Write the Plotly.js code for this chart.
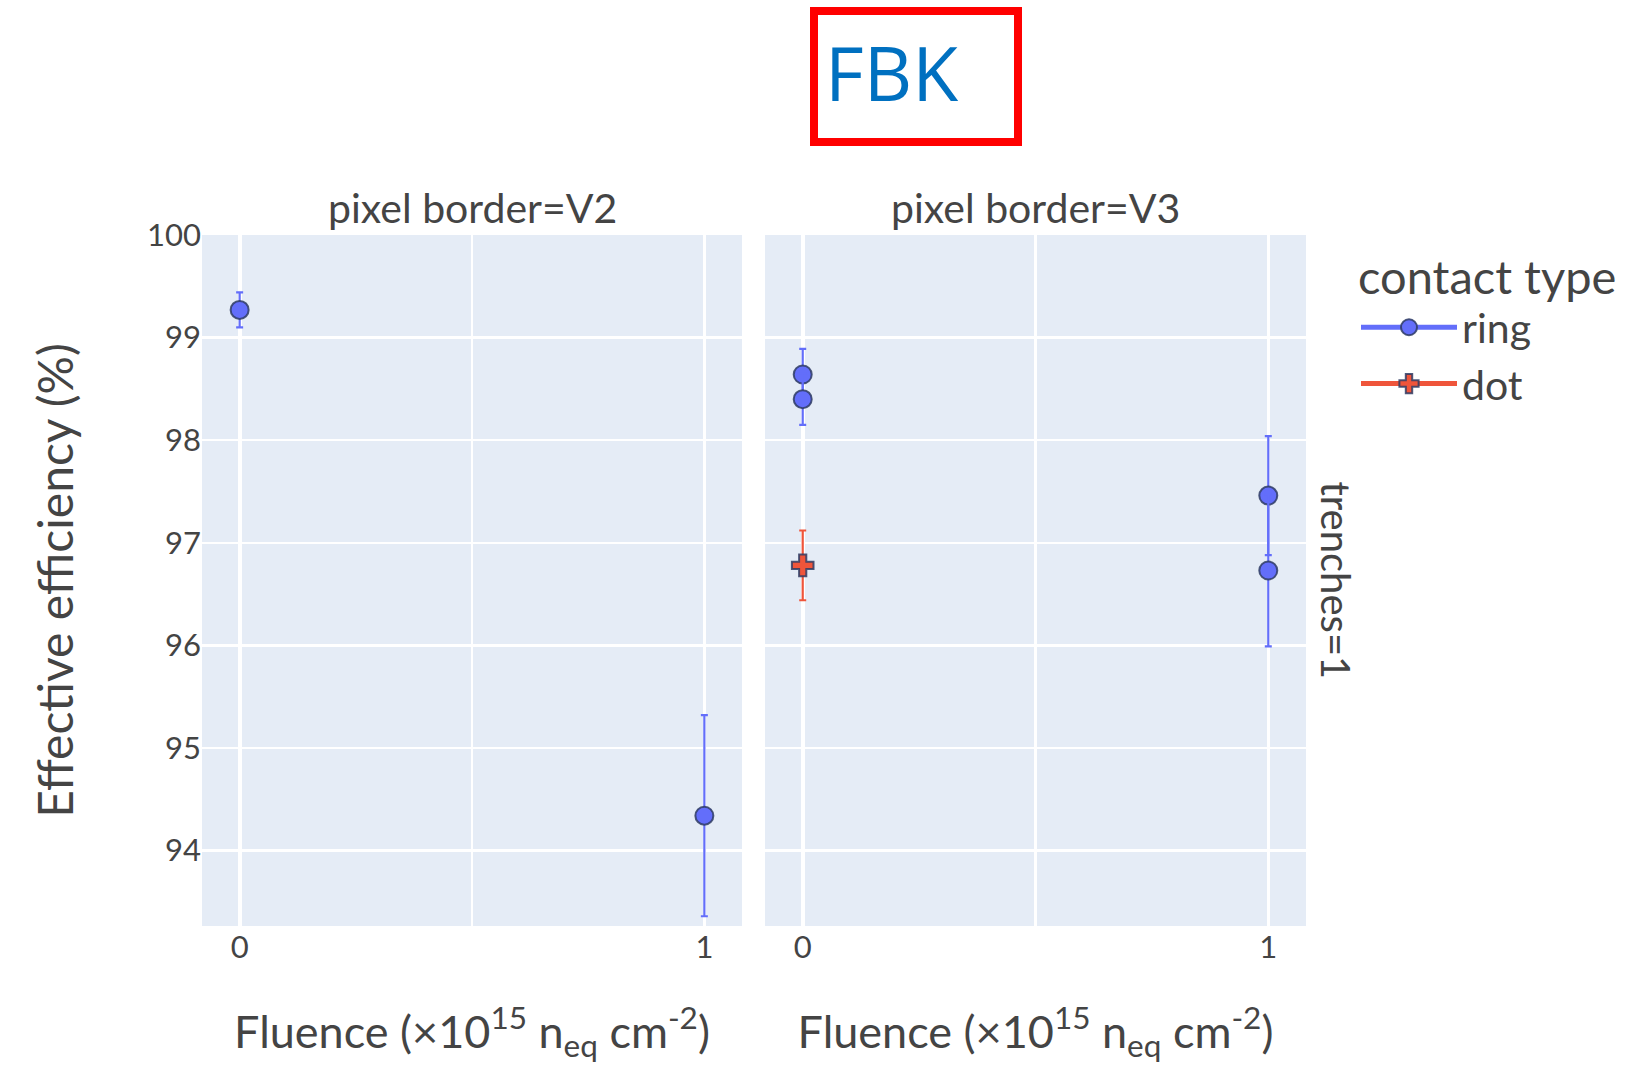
<!DOCTYPE html>
<html>
<head>
<meta charset="utf-8">
<script src="https://cdn.plot.ly/plotly-3.0.1.min.js"></script>
<style>
  html, body { margin: 0; padding: 0; background: #fff; }
  #chart { width: 1641px; height: 1066px; }
</style>
</head>
<body>
<div id="chart"></div>
<script>
// ---- data ----
const panels = ["V2", "V3"];
const contactTypes = ["ring", "dot"];
const contactColors = {ring: "#636EFA", dot: "#EF553B"};
const contactSymbols = {ring: "circle", dot: "cross"};

// pixel border = V2
const v2RingFluence = [0, 1];
const v2RingEff = [99.27, 94.34];
const v2RingErr = [0.17, 0.98];

// pixel border = V3
const v3RingFluence = [0, 0, 1, 1];
const v3RingEff = [98.64, 98.40, 97.46, 96.73];
const v3RingErr = [0.25, 0.25, 0.58, 0.74];

const v3DotFluence = [0];
const v3DotEff = [96.78];
const v3DotErr = [0.34];

const xTickVals = [0, 0.5, 1];
const xTickText = ["0", "", "1"];
const yTickVals = [94, 95, 96, 97, 98, 99, 100];

const seriesList = [
  {panel: "V2", type: "ring", x: v2RingFluence, y: v2RingEff, e: v2RingErr},
  {panel: "V3", type: "ring", x: v3RingFluence, y: v3RingEff, e: v3RingErr},
  {panel: "V3", type: "dot",  x: v3DotFluence,  y: v3DotEff,  e: v3DotErr}
];

const FONT = "Lato, 'Open Sans', sans-serif";
const TXT = "#444444";

const traces = [];
const shownLegend = {};
seriesList.forEach(s => {
  const axis = s.panel === "V2" ? "" : "2";
  for (let i = 0; i < s.x.length; i++) {
    const col = contactColors[s.type];
    traces.push({
      type: "scatter",
      mode: "lines+markers",
      x: [s.x[i]],
      y: [s.y[i]],
      xaxis: "x" + axis,
      yaxis: "y" + axis,
      name: s.type,
      legendgroup: s.type,
      showlegend: !shownLegend[s.type],
      line: {color: col, width: 5},
      marker: {
        color: col, size: 18, symbol: contactSymbols[s.type],
        line: {color: "rgba(47,60,100,0.85)", width: 2}
      },
      error_y: {type: "data", array: [s.e[i]], visible: true,
                color: col, thickness: 2.2, width: 3.5}
    });
    shownLegend[s.type] = true;
  }
});

const W = 1641, H = 1066;
const mL = 202, mR = 335, mT = 235, mB = 140;
const pw = W - mL - mR, ph = H - mT - mB;
const px = v => (v - mL) / pw;            // pixel x -> paper x
const py = v => (H - mB - v) / ph;        // pixel y -> paper y

const axisCommon = {
  range: [-0.081, 1.081],
  tickvals: xTickVals,
  ticktext: xTickText,
  showgrid: true,
  gridcolor: "#ffffff",
  gridwidth: 2.5,
  zeroline: true,
  zerolinecolor: "#ffffff",
  zerolinewidth: 4,
  ticks: "",
  tickfont: {family: FONT, size: 31, color: TXT},
  title: {
    text: "Fluence (×10<sup>15</sup> n<sub>eq</sub> cm<sup>-2</sup>)",
    font: {family: FONT, size: 45, color: TXT},
    standoff: 52
  }
};

const yCommon = {
  range: [93.265, 100],
  tickvals: yTickVals,
  showgrid: true,
  gridcolor: "#ffffff",
  gridwidth: 2.5,
  zeroline: false,
  ticks: "",
  tickfont: {family: FONT, size: 31, color: TXT}
};

const layout = {
  width: W,
  height: H,
  margin: {l: mL, r: mR, t: mT, b: mB, pad: 0},
  paper_bgcolor: "#ffffff",
  plot_bgcolor: "#E5ECF6",
  font: {family: FONT, color: TXT},
  xaxis: Object.assign({}, axisCommon, {domain: [0, 540 / pw], anchor: "y"}),
  xaxis2: Object.assign({}, axisCommon, {domain: [563 / pw, 1], anchor: "y2"}),
  yaxis: Object.assign({}, yCommon, {
    anchor: "x",
    title: {text: "Effective efficiency (%)",
            font: {family: FONT, size: 48, color: TXT}, standoff: 58}
  }),
  yaxis2: Object.assign({}, yCommon, {anchor: "x2", matches: "y", showticklabels: false}),
  legend: {
    x: px(1356), y: py(233), xanchor: "left", yanchor: "top",
    bgcolor: "rgba(0,0,0,0)",
    borderwidth: 0,
    itemwidth: 96,
    tracegroupgap: 0,
    title: {text: "contact type", font: {family: FONT, size: 47, color: TXT}},
    font: {family: FONT, size: 41, color: TXT}
  },
  shapes: [{
    type: "rect", xref: "paper", yref: "paper",
    x0: px(814), x1: px(1018), y0: py(142), y1: py(11),
    line: {color: "#FF0000", width: 8}, fillcolor: "#ffffff", layer: "above"
  }],
  annotations: [
    {text: "pixel border=" + panels[0], xref: "paper", yref: "paper",
     x: px(472), y: py(208), xanchor: "center", yanchor: "middle", showarrow: false,
     font: {family: FONT, size: 41, color: TXT}},
    {text: "pixel border=" + panels[1], xref: "paper", yref: "paper",
     x: px(1035.5), y: py(208), xanchor: "center", yanchor: "middle", showarrow: false,
     font: {family: FONT, size: 41, color: TXT}},
    {text: "trenches=1", xref: "paper", yref: "paper",
     x: px(1336), y: 0.5, xanchor: "center", yanchor: "middle", showarrow: false,
     textangle: 90, font: {family: FONT, size: 40, color: TXT}},
    {text: "FBK", xref: "paper", yref: "paper",
     x: px(823), y: py(72), xanchor: "left", yanchor: "middle", showarrow: false,
     font: {family: "'Open Sans', 'Noto Sans', sans-serif", size: 75, color: "#0070C0"}}
  ]
};

Plotly.newPlot("chart", traces, layout, {displayModeBar: false, staticPlot: true});
</script>
</body>
</html>
